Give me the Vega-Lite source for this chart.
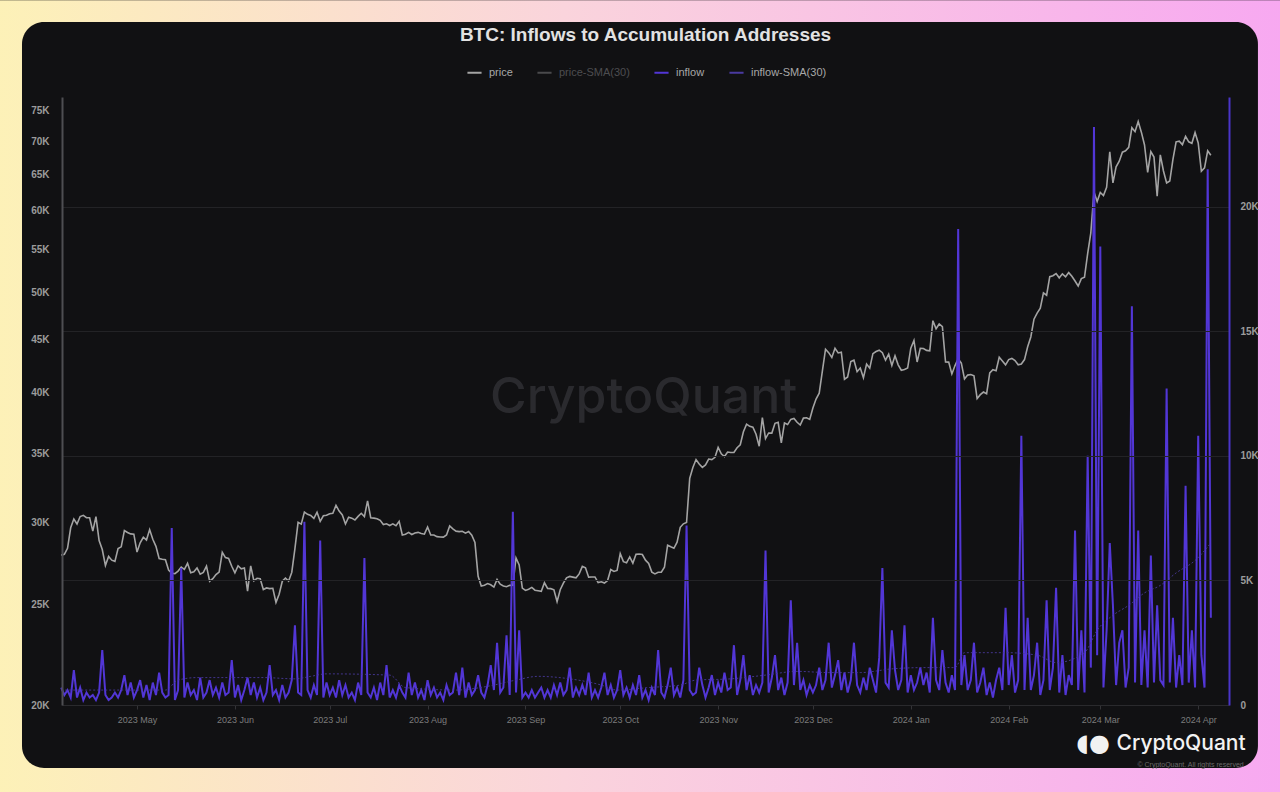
{
  "$schema": "https://vega.github.io/schema/vega-lite/v6.json",
  "width": 1167,
  "height": 608,
  "autosize": {"type": "none"},
  "padding": {"left": 62, "top": 97, "right": 51, "bottom": 87},
  "background": "#111113",
  "title": {"text": "BTC: Inflows to Accumulation Addresses", "font": "Liberation Sans", "fontSize": 19, "fontWeight": "bold", "color": "#e2e2e2", "anchor": "middle", "frame": "group", "offset": -45},
  "config": {
    "view": {"stroke": null},
    "legend": {"labelFont": "Liberation Sans", "labelFontSize": 11, "labelColor": "#a8a8a8"}
  },
  "datasets": {
    "m": [
      {"d":"2023-04-07","p":27900,"i":700},{"d":"2023-04-08","p":27950,"i":400},{"d":"2023-04-09","p":28330,"i":600},{"d":"2023-04-10","p":29650,"i":300},{"d":"2023-04-11","p":30230,"i":1400},{"d":"2023-04-12","p":29900,"i":300},{"d":"2023-04-13","p":30400,"i":700},{"d":"2023-04-14","p":30480,"i":200},{"d":"2023-04-15","p":30320,"i":500},{"d":"2023-04-16","p":30320,"i":300},{"d":"2023-04-17","p":29430,"i":400},{"d":"2023-04-18","p":30390,"i":200},{"d":"2023-04-19","p":28820,"i":500},{"d":"2023-04-20","p":28250,"i":2200},{"d":"2023-04-21","p":27270,"i":400},{"d":"2023-04-22","p":27820,"i":200},{"d":"2023-04-23","p":27590,"i":300},{"d":"2023-04-24","p":27520,"i":500},{"d":"2023-04-25","p":28310,"i":300},{"d":"2023-04-26","p":28420,"i":600},{"d":"2023-04-27","p":29470,"i":1200},{"d":"2023-04-28","p":29340,"i":400},{"d":"2023-04-29","p":29250,"i":900},{"d":"2023-04-30","p":29230,"i":300},
      {"d":"2023-05-01","p":28090,"i":600},{"d":"2023-05-02","p":28680,"i":1000},{"d":"2023-05-03","p":29030,"i":300},{"d":"2023-05-04","p":28850,"i":800},{"d":"2023-05-05","p":29530,"i":200},{"d":"2023-05-06","p":28900,"i":900},{"d":"2023-05-07","p":28450,"i":400},{"d":"2023-05-08","p":27690,"i":1300},{"d":"2023-05-09","p":27650,"i":500},{"d":"2023-05-10","p":27620,"i":300},{"d":"2023-05-11","p":26990,"i":400},{"d":"2023-05-12","p":26800,"i":7100},{"d":"2023-05-13","p":26780,"i":200},{"d":"2023-05-14","p":26930,"i":600},{"d":"2023-05-15","p":27170,"i":5500},{"d":"2023-05-16","p":27030,"i":300},{"d":"2023-05-17","p":27400,"i":900},{"d":"2023-05-18","p":26830,"i":400},{"d":"2023-05-19","p":26890,"i":600},{"d":"2023-05-20","p":27120,"i":200},{"d":"2023-05-21","p":26750,"i":1100},{"d":"2023-05-22","p":26850,"i":300},{"d":"2023-05-23","p":27230,"i":500},{"d":"2023-05-24","p":26330,"i":1000},{"d":"2023-05-25","p":26480,"i":400},{"d":"2023-05-26","p":26720,"i":700},{"d":"2023-05-27","p":26870,"i":300},{"d":"2023-05-28","p":28080,"i":900},{"d":"2023-05-29","p":27750,"i":400},{"d":"2023-05-30","p":27700,"i":500},{"d":"2023-05-31","p":27220,"i":1800},
      {"d":"2023-06-01","p":26820,"i":300},{"d":"2023-06-02","p":27250,"i":800},{"d":"2023-06-03","p":27070,"i":200},{"d":"2023-06-04","p":27120,"i":600},{"d":"2023-06-05","p":25760,"i":1100},{"d":"2023-06-06","p":27240,"i":400},{"d":"2023-06-07","p":26350,"i":900},{"d":"2023-06-08","p":26500,"i":300},{"d":"2023-06-09","p":26480,"i":700},{"d":"2023-06-10","p":25850,"i":200},{"d":"2023-06-11","p":25940,"i":500},{"d":"2023-06-12","p":25900,"i":1600},{"d":"2023-06-13","p":25920,"i":400},{"d":"2023-06-14","p":25120,"i":600},{"d":"2023-06-15","p":25580,"i":200},{"d":"2023-06-16","p":26330,"i":800},{"d":"2023-06-17","p":26510,"i":300},{"d":"2023-06-18","p":26340,"i":500},{"d":"2023-06-19","p":26850,"i":1000},{"d":"2023-06-20","p":28310,"i":3200},{"d":"2023-06-21","p":30010,"i":500},{"d":"2023-06-22","p":29890,"i":400},{"d":"2023-06-23","p":30700,"i":7350},{"d":"2023-06-24","p":30550,"i":600},{"d":"2023-06-25","p":30470,"i":300},{"d":"2023-06-26","p":30270,"i":800},{"d":"2023-06-27","p":30690,"i":400},{"d":"2023-06-28","p":30080,"i":6600},{"d":"2023-06-29","p":30450,"i":300},{"d":"2023-06-30","p":30480,"i":900},
      {"d":"2023-07-01","p":30590,"i":400},{"d":"2023-07-02","p":30620,"i":700},{"d":"2023-07-03","p":31160,"i":300},{"d":"2023-07-04","p":30770,"i":1000},{"d":"2023-07-05","p":30510,"i":400},{"d":"2023-07-06","p":29900,"i":800},{"d":"2023-07-07","p":30350,"i":300},{"d":"2023-07-08","p":30290,"i":500},{"d":"2023-07-09","p":30170,"i":200},{"d":"2023-07-10","p":30410,"i":900},{"d":"2023-07-11","p":30620,"i":400},{"d":"2023-07-12","p":30390,"i":5900},{"d":"2023-07-13","p":31480,"i":500},{"d":"2023-07-14","p":30320,"i":300},{"d":"2023-07-15","p":30290,"i":700},{"d":"2023-07-16","p":30250,"i":200},{"d":"2023-07-17","p":30140,"i":900},{"d":"2023-07-18","p":29860,"i":400},{"d":"2023-07-19","p":29910,"i":1600},{"d":"2023-07-20","p":29800,"i":300},{"d":"2023-07-21","p":29910,"i":600},{"d":"2023-07-22","p":29790,"i":300},{"d":"2023-07-23","p":30080,"i":800},{"d":"2023-07-24","p":29180,"i":500},{"d":"2023-07-25","p":29230,"i":300},{"d":"2023-07-26","p":29350,"i":1300},{"d":"2023-07-27","p":29210,"i":400},{"d":"2023-07-28","p":29310,"i":900},{"d":"2023-07-29","p":29350,"i":300},{"d":"2023-07-30","p":29280,"i":600},{"d":"2023-07-31","p":29230,"i":200},
      {"d":"2023-08-01","p":29700,"i":1000},{"d":"2023-08-02","p":29180,"i":400},{"d":"2023-08-03","p":29180,"i":700},{"d":"2023-08-04","p":29070,"i":300},{"d":"2023-08-05","p":29050,"i":500},{"d":"2023-08-06","p":29040,"i":200},{"d":"2023-08-07","p":29180,"i":800},{"d":"2023-08-08","p":29770,"i":400},{"d":"2023-08-09","p":29580,"i":500},{"d":"2023-08-10","p":29430,"i":1300},{"d":"2023-08-11","p":29400,"i":400},{"d":"2023-08-12","p":29420,"i":1500},{"d":"2023-08-13","p":29300,"i":300},{"d":"2023-08-14","p":29410,"i":900},{"d":"2023-08-15","p":29170,"i":400},{"d":"2023-08-16","p":28700,"i":600},{"d":"2023-08-17","p":26620,"i":1200},{"d":"2023-08-18","p":26050,"i":500},{"d":"2023-08-19","p":26100,"i":300},{"d":"2023-08-20","p":26190,"i":800},{"d":"2023-08-21","p":26120,"i":1600},{"d":"2023-08-22","p":25990,"i":600},{"d":"2023-08-23","p":26430,"i":2500},{"d":"2023-08-24","p":26160,"i":500},{"d":"2023-08-25","p":26050,"i":700},{"d":"2023-08-26","p":26010,"i":2800},{"d":"2023-08-27","p":26090,"i":400},{"d":"2023-08-28","p":26100,"i":7750},{"d":"2023-08-29","p":27730,"i":500},{"d":"2023-08-30","p":27300,"i":3000},{"d":"2023-08-31","p":25930,"i":300},
      {"d":"2023-09-01","p":25800,"i":500},{"d":"2023-09-02","p":25870,"i":300},{"d":"2023-09-03","p":25970,"i":600},{"d":"2023-09-04","p":25810,"i":300},{"d":"2023-09-05","p":25780,"i":500},{"d":"2023-09-06","p":25750,"i":700},{"d":"2023-09-07","p":26240,"i":300},{"d":"2023-09-08","p":25910,"i":600},{"d":"2023-09-09","p":25900,"i":300},{"d":"2023-09-10","p":25830,"i":800},{"d":"2023-09-11","p":25160,"i":400},{"d":"2023-09-12","p":25840,"i":900},{"d":"2023-09-13","p":26220,"i":400},{"d":"2023-09-14","p":26530,"i":600},{"d":"2023-09-15","p":26610,"i":1500},{"d":"2023-09-16","p":26570,"i":300},{"d":"2023-09-17","p":26530,"i":700},{"d":"2023-09-18","p":26760,"i":400},{"d":"2023-09-19","p":27210,"i":800},{"d":"2023-09-20","p":27130,"i":400},{"d":"2023-09-21","p":26570,"i":1300},{"d":"2023-09-22","p":26580,"i":300},{"d":"2023-09-23","p":26580,"i":600},{"d":"2023-09-24","p":26250,"i":300},{"d":"2023-09-25","p":26300,"i":700},{"d":"2023-09-26","p":26220,"i":1300},{"d":"2023-09-27","p":26370,"i":400},{"d":"2023-09-28","p":27020,"i":800},{"d":"2023-09-29","p":26910,"i":300},{"d":"2023-09-30","p":26970,"i":600},
      {"d":"2023-10-01","p":27990,"i":1400},{"d":"2023-10-02","p":27500,"i":400},{"d":"2023-10-03","p":27430,"i":700},{"d":"2023-10-04","p":27790,"i":300},{"d":"2023-10-05","p":27410,"i":800},{"d":"2023-10-06","p":27950,"i":400},{"d":"2023-10-07","p":27970,"i":1200},{"d":"2023-10-08","p":27940,"i":300},{"d":"2023-10-09","p":27590,"i":600},{"d":"2023-10-10","p":27390,"i":200},{"d":"2023-10-11","p":26870,"i":700},{"d":"2023-10-12","p":26760,"i":400},{"d":"2023-10-13","p":26860,"i":2200},{"d":"2023-10-14","p":26860,"i":500},{"d":"2023-10-15","p":27160,"i":300},{"d":"2023-10-16","p":28520,"i":800},{"d":"2023-10-17","p":28420,"i":1500},{"d":"2023-10-18","p":28330,"i":400},{"d":"2023-10-19","p":28720,"i":700},{"d":"2023-10-20","p":29680,"i":300},{"d":"2023-10-21","p":29910,"i":1000},{"d":"2023-10-22","p":30000,"i":7200},{"d":"2023-10-23","p":33090,"i":600},{"d":"2023-10-24","p":33900,"i":400},{"d":"2023-10-25","p":34500,"i":500},{"d":"2023-10-26","p":34160,"i":1500},{"d":"2023-10-27","p":33910,"i":800},{"d":"2023-10-28","p":34090,"i":300},{"d":"2023-10-29","p":34540,"i":700},{"d":"2023-10-30","p":34500,"i":1200},{"d":"2023-10-31","p":34670,"i":400},
      {"d":"2023-11-01","p":35440,"i":900},{"d":"2023-11-02","p":34940,"i":500},{"d":"2023-11-03","p":34730,"i":1300},{"d":"2023-11-04","p":35080,"i":600},{"d":"2023-11-05","p":35050,"i":700},{"d":"2023-11-06","p":35050,"i":2400},{"d":"2023-11-07","p":35420,"i":400},{"d":"2023-11-08","p":35650,"i":1000},{"d":"2023-11-09","p":36700,"i":2000},{"d":"2023-11-10","p":37320,"i":600},{"d":"2023-11-11","p":37140,"i":1200},{"d":"2023-11-12","p":37070,"i":400},{"d":"2023-11-13","p":36500,"i":800},{"d":"2023-11-14","p":35540,"i":500},{"d":"2023-11-15","p":37880,"i":900},{"d":"2023-11-16","p":36150,"i":6200},{"d":"2023-11-17","p":36600,"i":500},{"d":"2023-11-18","p":36590,"i":1100},{"d":"2023-11-19","p":37390,"i":2000},{"d":"2023-11-20","p":37480,"i":600},{"d":"2023-11-21","p":35810,"i":1100},{"d":"2023-11-22","p":37420,"i":400},{"d":"2023-11-23","p":37290,"i":900},{"d":"2023-11-24","p":37720,"i":4200},{"d":"2023-11-25","p":37800,"i":800},{"d":"2023-11-26","p":37480,"i":2500},{"d":"2023-11-27","p":37250,"i":600},{"d":"2023-11-28","p":37830,"i":1000},{"d":"2023-11-29","p":37860,"i":400},{"d":"2023-11-30","p":37720,"i":800},
      {"d":"2023-12-01","p":38690,"i":500},{"d":"2023-12-02","p":39460,"i":800},{"d":"2023-12-03","p":39980,"i":1500},{"d":"2023-12-04","p":41980,"i":600},{"d":"2023-12-05","p":44080,"i":1000},{"d":"2023-12-06","p":43750,"i":2500},{"d":"2023-12-07","p":43290,"i":700},{"d":"2023-12-08","p":44170,"i":1200},{"d":"2023-12-09","p":43720,"i":1800},{"d":"2023-12-10","p":43790,"i":600},{"d":"2023-12-11","p":41240,"i":1300},{"d":"2023-12-12","p":41450,"i":500},{"d":"2023-12-13","p":42890,"i":1000},{"d":"2023-12-14","p":43020,"i":2500},{"d":"2023-12-15","p":41940,"i":800},{"d":"2023-12-16","p":42280,"i":500},{"d":"2023-12-17","p":41370,"i":1100},{"d":"2023-12-18","p":42660,"i":600},{"d":"2023-12-19","p":42270,"i":1500},{"d":"2023-12-20","p":43650,"i":1000},{"d":"2023-12-21","p":43860,"i":500},{"d":"2023-12-22","p":43990,"i":1900},{"d":"2023-12-23","p":43740,"i":5500},{"d":"2023-12-24","p":43020,"i":900},{"d":"2023-12-25","p":43610,"i":700},{"d":"2023-12-26","p":42520,"i":3000},{"d":"2023-12-27","p":43440,"i":1400},{"d":"2023-12-28","p":42580,"i":600},{"d":"2023-12-29","p":42070,"i":1000},{"d":"2023-12-30","p":42140,"i":3200},{"d":"2023-12-31","p":42280,"i":500},
      {"d":"2024-01-01","p":44180,"i":1200},{"d":"2024-01-02","p":44940,"i":600},{"d":"2024-01-03","p":42850,"i":900},{"d":"2024-01-04","p":44180,"i":1500},{"d":"2024-01-05","p":44160,"i":800},{"d":"2024-01-06","p":43970,"i":1300},{"d":"2024-01-07","p":43930,"i":500},{"d":"2024-01-08","p":46970,"i":3500},{"d":"2024-01-09","p":46130,"i":1000},{"d":"2024-01-10","p":46630,"i":600},{"d":"2024-01-11","p":46360,"i":2200},{"d":"2024-01-12","p":42850,"i":900},{"d":"2024-01-13","p":42840,"i":500},{"d":"2024-01-14","p":41730,"i":1200},{"d":"2024-01-15","p":42510,"i":600},{"d":"2024-01-16","p":43150,"i":19100},{"d":"2024-01-17","p":42740,"i":800},{"d":"2024-01-18","p":41260,"i":2000},{"d":"2024-01-19","p":41620,"i":600},{"d":"2024-01-20","p":41670,"i":1000},{"d":"2024-01-21","p":41550,"i":2500},{"d":"2024-01-22","p":39500,"i":500},{"d":"2024-01-23","p":39850,"i":900},{"d":"2024-01-24","p":40080,"i":1500},{"d":"2024-01-25","p":39930,"i":400},{"d":"2024-01-26","p":41820,"i":900},{"d":"2024-01-27","p":42120,"i":300},{"d":"2024-01-28","p":42030,"i":1000},{"d":"2024-01-29","p":43300,"i":1500},{"d":"2024-01-30","p":42950,"i":600},{"d":"2024-01-31","p":42580,"i":3900},
      {"d":"2024-02-01","p":43080,"i":800},{"d":"2024-02-02","p":43190,"i":2000},{"d":"2024-02-03","p":42990,"i":500},{"d":"2024-02-04","p":42580,"i":1000},{"d":"2024-02-05","p":42660,"i":10800},{"d":"2024-02-06","p":43080,"i":600},{"d":"2024-02-07","p":44320,"i":3500},{"d":"2024-02-08","p":45300,"i":600},{"d":"2024-02-09","p":47130,"i":1200},{"d":"2024-02-10","p":47770,"i":2500},{"d":"2024-02-11","p":48290,"i":400},{"d":"2024-02-12","p":49960,"i":1000},{"d":"2024-02-13","p":49700,"i":4200},{"d":"2024-02-14","p":51800,"i":600},{"d":"2024-02-15","p":51910,"i":1500},{"d":"2024-02-16","p":52160,"i":4700},{"d":"2024-02-17","p":51660,"i":500},{"d":"2024-02-18","p":52120,"i":2000},{"d":"2024-02-19","p":51780,"i":400},{"d":"2024-02-20","p":52260,"i":1200},{"d":"2024-02-21","p":51840,"i":800},{"d":"2024-02-22","p":51300,"i":7000},{"d":"2024-02-23","p":50730,"i":600},{"d":"2024-02-24","p":51570,"i":3000},{"d":"2024-02-25","p":51730,"i":500},{"d":"2024-02-26","p":54520,"i":10000},{"d":"2024-02-27","p":57090,"i":1500},{"d":"2024-02-28","p":62500,"i":23200},{"d":"2024-02-29","p":61200,"i":2000},
      {"d":"2024-03-01","p":62440,"i":18400},{"d":"2024-03-02","p":62030,"i":700},{"d":"2024-03-03","p":63170,"i":3000},{"d":"2024-03-04","p":68330,"i":6500},{"d":"2024-03-05","p":63800,"i":4000},{"d":"2024-03-06","p":66110,"i":800},{"d":"2024-03-07","p":66930,"i":2500},{"d":"2024-03-08","p":68300,"i":3000},{"d":"2024-03-09","p":68500,"i":700},{"d":"2024-03-10","p":69020,"i":1500},{"d":"2024-03-11","p":72120,"i":16000},{"d":"2024-03-12","p":71480,"i":900},{"d":"2024-03-13","p":73100,"i":7000},{"d":"2024-03-14","p":71400,"i":800},{"d":"2024-03-15","p":69400,"i":3000},{"d":"2024-03-16","p":65310,"i":700},{"d":"2024-03-17","p":68390,"i":6000},{"d":"2024-03-18","p":67550,"i":900},{"d":"2024-03-19","p":61930,"i":4000},{"d":"2024-03-20","p":67900,"i":1000},{"d":"2024-03-21","p":65500,"i":800},{"d":"2024-03-22","p":63780,"i":12700},{"d":"2024-03-23","p":64050,"i":900},{"d":"2024-03-24","p":67210,"i":3500},{"d":"2024-03-25","p":69880,"i":700},{"d":"2024-03-26","p":69990,"i":2000},{"d":"2024-03-27","p":69450,"i":800},{"d":"2024-03-28","p":70750,"i":8800},{"d":"2024-03-29","p":69880,"i":900},{"d":"2024-03-30","p":69650,"i":3000},{"d":"2024-03-31","p":71330,"i":700},
      {"d":"2024-04-01","p":69700,"i":10800},{"d":"2024-04-02","p":65460,"i":2000},{"d":"2024-04-03","p":65960,"i":700},{"d":"2024-04-04","p":68510,"i":21500},{"d":"2024-04-05","p":67840,"i":3500}
    ],
    "sma": [
      {"d":"2023-04-07","s":600},{"d":"2023-05-10","s":600},{"d":"2023-05-14","s":1000},{"d":"2023-05-20","s":1100},{"d":"2023-06-10","s":1100},{"d":"2023-06-20","s":1050},{"d":"2023-06-25","s":1150},{"d":"2023-06-30","s":1250},{"d":"2023-07-20","s":1200},{"d":"2023-07-25","s":700},{"d":"2023-08-10","s":600},{"d":"2023-08-20","s":750},{"d":"2023-08-29","s":1000},{"d":"2023-09-05","s":1150},{"d":"2023-09-15","s":1050},{"d":"2023-09-25","s":800},{"d":"2023-09-30","s":600},{"d":"2023-10-10","s":700},{"d":"2023-10-20","s":800},{"d":"2023-10-25","s":1000},{"d":"2023-11-05","s":1050},{"d":"2023-11-16","s":1200},{"d":"2023-11-26","s":1350},{"d":"2023-12-06","s":1300},{"d":"2023-12-16","s":1300},{"d":"2023-12-26","s":1450},{"d":"2024-01-05","s":1500},{"d":"2024-01-15","s":1500},{"d":"2024-01-18","s":2100},{"d":"2024-01-31","s":2100},{"d":"2024-02-10","s":2000},{"d":"2024-02-16","s":1700},{"d":"2024-02-25","s":2100},{"d":"2024-02-29","s":3000},{"d":"2024-03-05","s":3600},{"d":"2024-03-10","s":4000},{"d":"2024-03-15","s":4500},{"d":"2024-03-20","s":4800},{"d":"2024-03-25","s":5300},{"d":"2024-03-31","s":5800},{"d":"2024-04-05","s":6500}
    ],
    "one": [{"k": 1}]
  },
  "layer": [
    {
      "layer": [
        {
          "data": {"name": "one"},
          "mark": {"type": "rect", "fill": {"gradient": "linear", "x1": 0, "y1": 0, "x2": 1, "y2": 0, "stops": [{"offset": 0, "color": "#fdf4b4"}, {"offset": 0.45, "color": "#fad4dc"}, {"offset": 1, "color": "#f7a6f2"}]}},
          "encoding": {
            "x": {"datum": {"year": 2023, "month": 3, "date": 1, "utc": true}, "type": "temporal"},
            "x2": {"datum": {"year": 2024, "month": 5, "date": 10, "utc": true}},
            "y": {"datum": 95700, "type": "quantitative"},
            "y2": {"datum": 15000}
          }
        },
        {
          "data": {"name": "one"},
          "mark": {"type": "rect", "fill": "#111113", "cornerRadius": 22},
          "encoding": {
            "x": {"datum": {"year": 2023, "month": 3, "date": 25, "hours": 14, "utc": true}, "type": "temporal"},
            "x2": {"datum": {"year": 2024, "month": 4, "date": 19, "hours": 22, "utc": true}},
            "y": {"datum": 91200, "type": "quantitative"},
            "y2": {"datum": 17390}
          }
        },
        {
          "data": {"name": "one"},
          "mark": {"type": "text", "text": "CryptoQuant", "font": "Inter", "fontSize": 50, "fontWeight": 500, "color": "#2a2a2e", "align": "center", "baseline": "middle"},
          "encoding": {
            "x": {"datum": {"year": 2023, "month": 10, "date": 8, "hours": 10, "utc": true}, "type": "temporal"},
            "y": {"datum": 39600, "type": "quantitative"}
          }
        },
        {
          "data": {"name": "m"},
          "mark": {"type": "line", "strokeWidth": 1.6, "interpolate": "linear"},
          "encoding": {
            "x": {
              "field": "d", "type": "temporal",
              "scale": {"type": "utc", "domain": [{"year": 2023, "month": 4, "date": 7, "hours": 6, "utc": true}, {"year": 2024, "month": 4, "date": 10, "hours": 18, "utc": true}]},
              "axis": {"title": null, "zindex": 1, "format": "%Y %b", "tickCount": {"interval": "month", "step": 1}, "labelColor": "#7c7c7c", "labelFont": "Liberation Sans", "labelFontSize": 9, "tickColor": "#333336", "tickSize": 4, "domainColor": "#2a2a2d", "labelPadding": 6, "grid": false, "labelFlush": false, "labelOverlap": false}
            },
            "y": {"field": "p", "type": "quantitative", "scale": {"type": "log", "domain": [20000, 77200], "nice": false, "zero": false},
              "axis": {"orient": "left", "title": null, "zindex": 1, "values": [20000,25000,30000,35000,40000,45000,50000,55000,60000,65000,70000,75000], "labelExpr": "datum.value/1000 + 'K'", "ticks": false, "labelPadding": 13, "domainColor": "#4e4e52", "domainWidth": 2, "grid": false, "labelColor": "#9c9c9c", "labelFont": "Liberation Sans", "labelFontSize": 10, "labelFontWeight": "bold"}},
            "color": {"datum": "price", "type": "nominal",
              "scale": {"domain": ["price", "price-SMA(30)", "inflow", "inflow-SMA(30)"], "range": ["#a4a4a4", "#4a4a4c", "#5236d6", "#4a3aa0"]},
              "legend": {"orient": "none", "legendX": 404, "legendY": -33, "direction": "horizontal", "title": null, "symbolType": "stroke", "symbolStrokeWidth": 2, "symbolSize": 200, "columnPadding": 20, "labelOffset": 6,
                "encode": {"labels": {"update": {"fill": {"signal": "datum.value === 'price-SMA(30)' ? '#4d4d50' : '#a8a8a8'"}}}}}}
          }
        }
      ]
    },
    {
      "layer": [
        {
          "data": {"name": "m"},
          "mark": {"type": "line", "strokeWidth": 2, "interpolate": "linear"},
          "encoding": {
            "x": {"field": "d", "type": "temporal"},
            "y": {"field": "i", "type": "quantitative", "scale": {"domain": [0, 24400], "nice": false},
              "axis": {"orient": "right", "title": null, "zindex": 1, "values": [0, 5000, 10000, 15000, 20000], "labelExpr": "datum.value == 0 ? '0' : datum.value/1000 + 'K'", "ticks": false, "labelPadding": 11, "domainColor": "#4a35c8", "domainWidth": 2, "grid": true, "gridColor": "#232326", "gridWidth": 1, "labelColor": "#9c9c9c", "labelFont": "Liberation Sans", "labelFontSize": 10, "labelFontWeight": "bold"}},
            "color": {"datum": "inflow", "type": "nominal", "scale": {"domain": ["price", "price-SMA(30)", "inflow", "inflow-SMA(30)"], "range": ["#a4a4a4", "#4a4a4c", "#5236d6", "#4a3aa0"]}}
          }
        },
        {
          "data": {"name": "sma"},
          "mark": {"type": "line", "strokeWidth": 1, "strokeDash": [2, 2], "opacity": 0.85, "interpolate": "monotone"},
          "encoding": {
            "x": {"field": "d", "type": "temporal"},
            "y": {"field": "s", "type": "quantitative"},
            "color": {"datum": "inflow-SMA(30)", "type": "nominal", "scale": {"domain": ["price", "price-SMA(30)", "inflow", "inflow-SMA(30)"], "range": ["#a4a4a4", "#4a4a4c", "#5236d6", "#4a3aa0"]}}
          }
        },
        {
          "data": {"name": "one"},
          "mark": {"type": "text", "text": "◖●", "font": "DejaVu Sans", "fontSize": 24, "color": "#f2f2f2", "align": "right", "baseline": "middle"},
          "encoding": {
            "x": {"datum": {"year": 2024, "month": 3, "date": 4, "hours": 2, "utc": true}, "type": "temporal"},
            "y": {"datum": -1570, "type": "quantitative"}
          }
        },
        {
          "data": {"name": "one"},
          "mark": {"type": "text", "text": "CryptoQuant", "font": "Inter", "fontSize": 21, "fontWeight": 500, "color": "#f2f2f2", "align": "right", "baseline": "middle"},
          "encoding": {
            "x": {"datum": {"year": 2024, "month": 4, "date": 16, "hours": 0, "utc": true}, "type": "temporal"},
            "y": {"datum": -1570, "type": "quantitative"}
          }
        },
        {
          "data": {"name": "one"},
          "mark": {"type": "text", "text": "© CryptoQuant. All rights reserved", "font": "Liberation Sans", "fontSize": 7, "color": "#6a6a6a", "align": "right", "baseline": "middle"},
          "encoding": {
            "x": {"datum": {"year": 2024, "month": 4, "date": 15, "hours": 10, "utc": true}, "type": "temporal"},
            "y": {"datum": -2410, "type": "quantitative"}
          }
        }
      ]
    }
  ],
  "resolve": {"scale": {"y": "independent"}}
}
